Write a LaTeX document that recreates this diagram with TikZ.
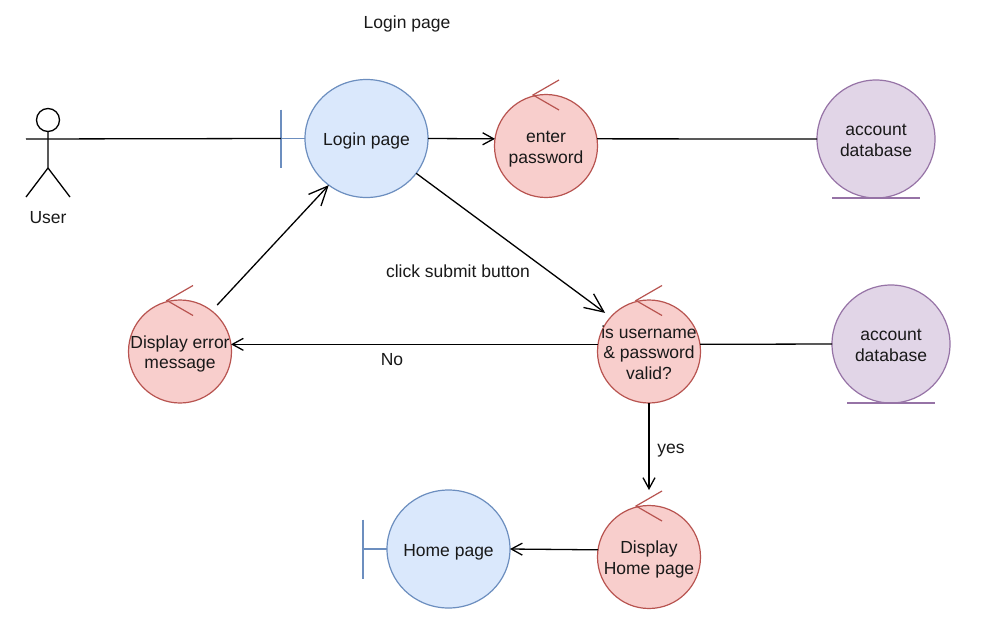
\documentclass[tikz,border=0pt]{standalone}
\usepackage{fontspec}
\setmainfont{Liberation Sans}
\usetikzlibrary{arrows.meta,shapes.geometric}
\definecolor{blueF}{HTML}{DAE8FC}\definecolor{blueS}{HTML}{6C8EBF}
\definecolor{redF}{HTML}{F8CECC}\definecolor{redS}{HTML}{B85450}
\definecolor{purF}{HTML}{E1D5E7}\definecolor{purS}{HTML}{9673A6}
\tikzset{
  lbl/.style={font=\fontsize{17.5}{20.5}\selectfont,text=black!90,align=center,inner sep=0pt},
  circ/.style={circle,lbl,inner sep=-15pt,outer sep=0pt,line width=1.2pt},
  boundaryc/.style={ellipse,lbl,inner sep=-8pt,outer sep=0pt,line width=1.2pt,draw=blueS,fill=blueF,minimum width=123pt,minimum height=118pt},
  controlc/.style={circ,draw=redS,fill=redF,minimum size=103pt},
  entityc/.style={circ,draw=purS,fill=purF,minimum size=118pt},
  conn/.style={line width=1.3pt,black},
  flow/.style={conn,-{Straight Barb[length=11pt,width=12pt,line width=1.3pt]}},
  bigflow/.style={conn,-{Straight Barb[length=19pt,width=17pt,line width=1.3pt]}},
  actorline/.style={line width=1.3pt,black},
  bluemark/.style={line width=1.2pt,blueS},
  redmark/.style={line width=1.2pt,redS},
  purmark/.style={line width=1.2pt,purS},
}
\newcommand{\ctrlmark}[1]{\draw[redmark] ([shift={(-13,-51)}]#1.center) ++(26,-15) -- ++(-26,15) -- ++(26,15);}
\newcommand{\tl}[1]{\raisebox{-7.4pt}[0pt][0pt]{\begin{tabular}{@{}c@{}}#1\end{tabular}}}
\begin{document}
\begin{tikzpicture}[x=1pt,y=-1pt]
\useasboundingbox[fill=white] (0,0) rectangle (992,627);
% nodes
\node[boundaryc] (login) at (366.5,138.5) {\tl{Login page}};
\node[controlc] (enter) at (546,146) {\tl{enter\\password}};
\node[entityc] (acc1) at (876,139) {\tl{account\\database}};
\node[controlc] (valid) at (649,351.5) {\tl{is username\\\&~password\\valid?}};
\node[entityc] (acc2) at (891,344) {\tl{account\\database}};
\node[controlc] (err) at (180,351.5) {\tl{Display error\\message}};
\node[boundaryc] (home) at (448.5,549) {\tl{Home page}};
\node[controlc] (dhome) at (649,557) {\tl{Display\\Home page}};
% marks
\ctrlmark{enter}\ctrlmark{valid}\ctrlmark{err}\ctrlmark{dhome}
\draw[bluemark] (login.west) -- ++(-24,0) coordinate (lb) ++(0,-29) -- ++(0,58);
\draw[bluemark] (home.west) -- ++(-24,0) coordinate (hb) ++(0,-29.5) -- ++(0,59);
\draw[purmark] (acc1.south) ++(-44,0) -- ++(88,0);
\draw[purmark] (acc2.south) ++(-44,0) -- ++(88,0);
% actor
\node[circle,draw=black,line width=1.3pt,minimum size=23pt,inner sep=0pt,outer sep=0pt] (head) at (48,120) {};
\coordinate (hip) at (48,168);
\coordinate (armL) at (26,139);
\coordinate (armR) at (70,139);
\draw[actorline] (head.south) -- (hip) (hip) -- (26,197) (hip) -- (70,197);
\node[lbl] (user) at (48,218) {User};
% connectors
\draw[conn] (armL) -- (lb);
\draw[flow] (login.east) -- (enter.172);
\draw[conn] (enter.8) -- (acc1.west);
\draw[bigflow,shorten >=7pt] (login.-35) -- (valid.138);
\draw[bigflow,shorten <=8pt] (err.52) -- (login.231);
\draw[flow] (valid.172) -- (err.8);
\draw[conn] (valid.8) -- (acc2.west);
\draw[flow,shorten >=15.5pt] (valid.south) -- (dhome.north);
\draw[flow] (dhome.172) -- (home.east);
% labels
\node[lbl] (title) at (407,24) {Login page};
\node[lbl] (lsubmit) at (458,271) {click submit button};
\node[lbl] (lno) at (392,360) {No};
\node[lbl] (lyes) at (671,451) {yes};
\end{tikzpicture}
\end{document}
